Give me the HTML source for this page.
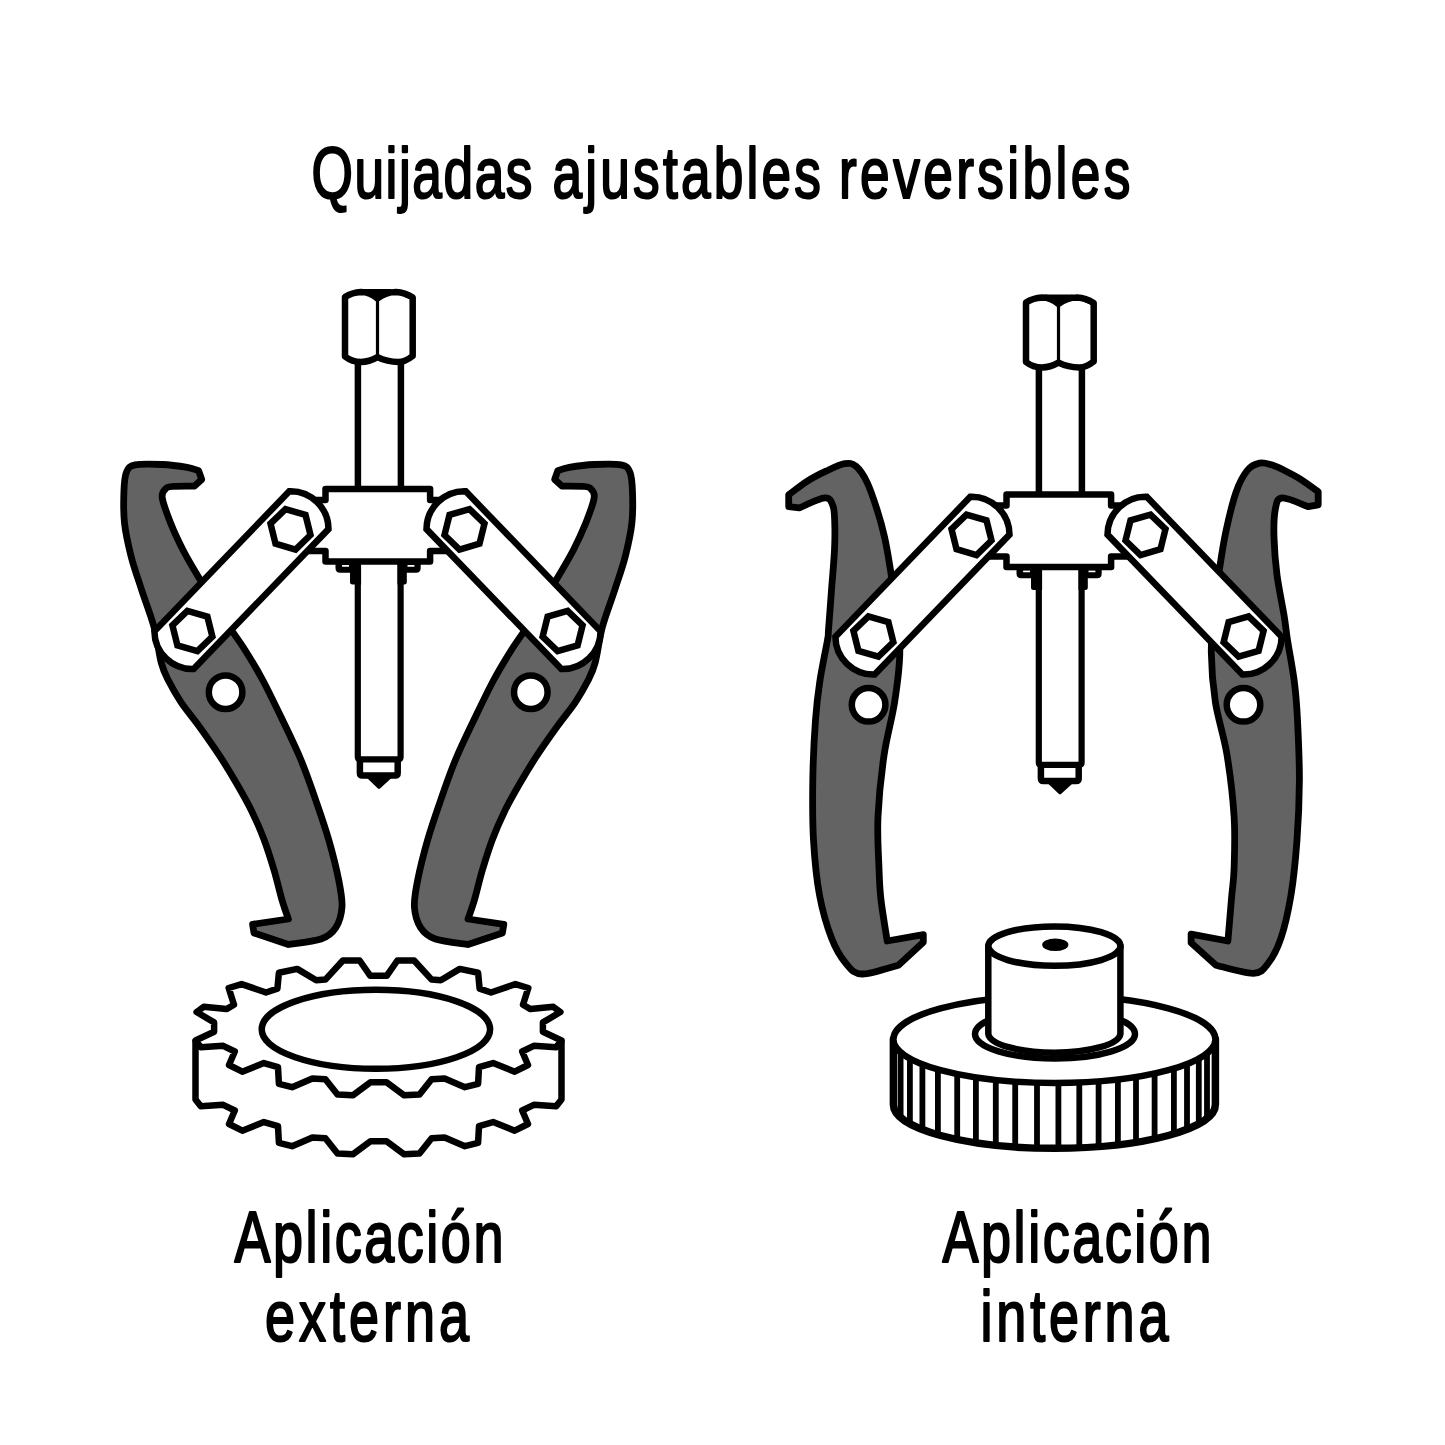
<!DOCTYPE html>
<html><head><meta charset="utf-8"><style>
html,body{margin:0;padding:0;background:#fff;width:1445px;height:1445px;overflow:hidden;position:relative}
</style></head><body>
<svg width="1445" height="1445" viewBox="0 0 1445 1445" style="position:absolute;left:0;top:0">
<path d="M198.6,470.7 C196.7,470.1 193.2,468.4 187.2,467.4 C181.1,466.4 171.0,464.9 162.3,464.5 C153.7,464.1 141.3,463.6 135.3,464.9 C129.3,466.1 128.4,467.5 126.5,472.0 C124.6,476.5 124.2,483.4 123.9,491.9 C123.6,500.4 123.3,512.3 124.5,523.0 C125.7,533.7 128.3,545.2 131.1,556.3 C133.9,567.4 137.7,577.7 141.5,589.5 C145.3,601.3 150.7,614.7 154.0,626.9 C157.3,639.1 158.8,653.5 161.2,662.5 C163.6,671.5 165.4,674.5 168.7,681.1 C172.0,687.7 175.9,694.6 181.1,702.3 C186.3,710.0 193.4,718.3 199.8,727.2 C206.2,736.1 213.5,746.4 219.7,755.9 C225.9,765.4 231.8,775.2 237.2,784.5 C242.6,793.8 247.6,802.6 252.1,811.9 C256.6,821.1 260.6,830.3 264.2,840.0 C267.8,849.7 271.0,860.0 274.0,870.0 C277.0,880.0 279.6,891.8 282.0,900.0 C284.4,908.2 287.3,915.8 288.4,919.0 L252.6,924.3 L254.0,933.0 L288.4,944.5 C293.8,943.6 313.1,941.8 321.0,939.0 C328.9,936.2 332.3,933.0 335.8,927.6 C339.3,922.2 341.5,914.8 342.0,906.9 C342.5,899.0 340.9,891.1 338.7,880.0 C336.5,868.9 332.6,853.3 328.8,840.0 C325.0,826.7 320.3,813.3 315.7,800.0 C311.1,786.7 306.5,773.3 301.0,760.0 C295.5,746.7 288.9,733.3 282.5,720.0 C276.1,706.7 268.9,691.7 262.7,680.0 C256.4,668.3 250.8,659.2 245.0,650.0 C239.2,640.8 233.2,633.0 228.0,625.0 C222.8,617.0 218.7,609.6 214.0,602.0 C209.3,594.4 204.9,587.8 199.7,579.1 C194.5,570.4 187.8,559.4 183.0,550.0 C178.2,540.6 174.0,531.6 170.6,523.0 C167.2,514.4 163.2,503.7 162.3,498.1 C161.4,492.5 163.4,491.4 165.0,489.5 C166.6,487.6 167.1,487.1 172.0,486.5 C176.9,485.9 190.8,486.2 194.5,486.1 L201.7,479.4 L198.6,470.7 Z" fill="#636363" stroke="#000" stroke-width="6.8" stroke-linejoin="round"/>
<path d="M557.8,470.7 C559.7,470.1 563.2,468.4 569.2,467.4 C575.2,466.4 585.4,464.9 594.1,464.5 C602.7,464.1 615.1,463.6 621.1,464.9 C627.1,466.1 628.0,467.5 629.9,472.0 C631.8,476.5 632.2,483.4 632.5,491.9 C632.8,500.4 633.1,512.3 631.9,523.0 C630.7,533.7 628.1,545.2 625.3,556.3 C622.5,567.4 618.7,577.7 614.9,589.5 C611.1,601.3 605.7,614.7 602.4,626.9 C599.1,639.1 597.7,653.5 595.2,662.5 C592.8,671.5 591.0,674.5 587.7,681.1 C584.4,687.7 580.5,694.6 575.3,702.3 C570.1,710.0 563.0,718.3 556.6,727.2 C550.2,736.1 542.9,746.4 536.7,755.9 C530.5,765.4 524.6,775.2 519.2,784.5 C513.8,793.8 508.8,802.6 504.3,811.9 C499.8,821.1 495.8,830.3 492.2,840.0 C488.6,849.7 485.4,860.0 482.4,870.0 C479.4,880.0 476.8,891.8 474.4,900.0 C472.0,908.2 469.1,915.8 468.0,919.0 L503.8,924.3 L502.4,933.0 L468.0,944.5 C462.6,943.6 443.3,941.8 435.4,939.0 C427.5,936.2 424.1,933.0 420.6,927.6 C417.1,922.2 414.9,914.8 414.4,906.9 C413.9,899.0 415.5,891.1 417.7,880.0 C419.9,868.9 423.8,853.3 427.6,840.0 C431.4,826.7 436.1,813.3 440.7,800.0 C445.3,786.7 449.9,773.3 455.4,760.0 C460.9,746.7 467.5,733.3 473.9,720.0 C480.3,706.7 487.4,691.7 493.7,680.0 C499.9,668.3 505.6,659.2 511.4,650.0 C517.2,640.8 523.2,633.0 528.4,625.0 C533.6,617.0 537.7,609.6 542.4,602.0 C547.1,594.4 551.5,587.8 556.7,579.1 C561.9,570.4 568.5,559.4 573.4,550.0 C578.2,540.6 582.3,531.6 585.8,523.0 C589.2,514.4 593.2,503.7 594.1,498.1 C595.0,492.5 593.0,491.4 591.4,489.5 C589.8,487.6 589.3,487.1 584.4,486.5 C579.5,485.9 565.6,486.2 561.9,486.1 L554.7,479.4 L557.8,470.7 Z" fill="#636363" stroke="#000" stroke-width="6.8" stroke-linejoin="round"/>
<circle cx="225.6" cy="692.2" r="16.8" fill="#fff" stroke="#000" stroke-width="6.5"/>
<circle cx="530.8" cy="692.2" r="16.8" fill="#fff" stroke="#000" stroke-width="6.5"/>
<path d="M788.7,494.8 C791.8,492.5 801.2,485.0 807.4,481.1 C813.6,477.2 819.8,474.1 826.0,471.2 C832.2,468.3 839.7,464.5 844.7,463.7 C849.7,462.9 852.2,463.1 855.9,466.2 C859.6,469.3 863.6,475.1 867.1,482.4 C870.6,489.7 874.2,500.7 877.1,509.8 C880.0,518.9 882.4,527.5 884.6,537.2 C886.8,547.0 888.3,556.2 890.2,568.3 C892.1,580.4 894.4,596.0 896.0,610.0 C897.6,624.0 900.0,637.1 899.8,652.5 C899.6,667.9 897.2,685.3 894.6,702.3 C892.0,719.2 887.0,735.2 884.2,754.2 C881.4,773.2 878.9,797.5 878.0,816.5 C877.1,835.5 878.5,854.5 879.0,868.4 C879.5,882.3 879.6,887.9 881.0,900.0 C882.4,912.1 886.2,934.2 887.2,941.0 L923.3,934.7 L923.3,942.2 L898.4,965.2 C892.4,966.7 871.0,974.3 862.3,974.0 C853.6,973.7 851.1,969.5 846.0,963.5 C840.9,957.5 835.9,949.4 831.5,938.0 C827.1,926.6 822.5,911.3 819.5,895.0 C816.5,878.7 814.6,859.2 813.5,840.0 C812.4,820.8 812.5,800.0 812.8,780.0 C813.1,760.0 814.3,736.4 815.5,720.0 C816.7,703.6 817.8,694.8 819.8,681.5 C821.8,668.2 826.0,648.6 827.5,640.0 C829.0,631.4 827.8,638.3 828.5,630.0 C829.2,621.7 830.5,603.3 831.5,590.0 C832.5,576.7 834.0,560.9 834.5,550.0 C835.0,539.1 835.0,532.0 834.8,524.7 C834.5,517.4 834.7,510.5 833.0,506.0 C831.3,501.5 830.4,497.6 824.8,497.9 C819.2,498.2 803.5,506.2 799.3,507.9 L788.7,506.7 L788.7,494.8 Z" fill="#636363" stroke="#000" stroke-width="6.8" stroke-linejoin="round"/>
<path d="M1318.2,491.7 C1315.3,489.6 1306.3,482.8 1300.7,479.3 C1295.1,475.8 1289.3,472.9 1284.5,470.5 C1279.7,468.1 1276.2,466.2 1272.1,465.0 C1267.9,463.8 1263.8,462.2 1259.6,463.1 C1255.4,464.0 1251.1,465.6 1247.2,470.5 C1243.3,475.4 1239.5,482.2 1236.0,492.3 C1232.5,502.4 1228.7,518.5 1226.0,531.0 C1223.3,543.5 1221.8,553.8 1219.8,567.0 C1217.8,580.2 1215.4,595.8 1214.0,610.0 C1212.6,624.2 1211.1,637.1 1211.3,652.5 C1211.5,667.9 1212.8,685.3 1215.4,702.3 C1218.0,719.2 1223.8,735.2 1226.9,754.2 C1230.0,773.2 1232.9,797.5 1234.1,816.5 C1235.3,835.5 1234.5,854.9 1234.1,868.4 C1233.7,881.9 1232.6,885.3 1231.6,897.4 C1230.6,909.5 1228.5,933.7 1227.9,941.0 L1191.1,934.1 L1191.1,942.8 L1216.0,965.2 C1222.2,966.6 1244.7,973.7 1253.4,973.3 C1262.1,972.9 1263.8,968.9 1268.4,963.0 C1273.0,957.1 1277.2,949.3 1281.0,938.0 C1284.8,926.7 1288.3,911.3 1291.0,895.0 C1293.7,878.7 1295.6,859.2 1297.0,840.0 C1298.4,820.8 1299.3,800.0 1299.4,780.0 C1299.5,760.0 1298.3,736.4 1297.5,720.0 C1296.7,703.6 1296.0,694.8 1294.3,681.5 C1292.6,668.2 1289.2,651.1 1287.5,640.0 C1285.8,628.9 1285.8,625.8 1284.0,615.0 C1282.2,604.2 1278.7,588.0 1277.0,575.0 C1275.3,562.0 1274.3,548.0 1274.0,537.2 C1273.7,526.4 1273.9,516.5 1275.2,510.0 C1276.5,503.5 1276.5,498.6 1282.0,498.0 C1287.5,497.4 1303.8,505.2 1308.2,506.7 L1318.2,504.8 L1318.2,491.7 Z" fill="#636363" stroke="#000" stroke-width="6.8" stroke-linejoin="round"/>
<circle cx="868.6" cy="704.8" r="16.8" fill="#fff" stroke="#000" stroke-width="6.5"/>
<circle cx="1243.5" cy="704.8" r="16.8" fill="#fff" stroke="#000" stroke-width="6.5"/>
<g id="sp"><path d="M357.9,362 V492 M400.9,362 V492" stroke="#000" stroke-width="6.5" fill="none"/><path d="M345,356.5 V297 Q352,292.5 361,292 Q370,292 377.5,298.5 Q386,292 396,292 Q405,292.5 412.7,297.5 V356 Q405,362 398.4,362 Q387,362 377.5,357.2 Q369,362 361,362 Q352,362 345,356.5 Z" fill="#fff" stroke="#000" stroke-width="6.5" stroke-linejoin="round"/><path d="M377.5,299 V357" stroke="#000" stroke-width="3.2"/><path d="M363,289 L392,289 L377.5,300 Z" fill="#000"/><path d="M351,295 Q345,298 343,300 M404,295 Q411,298 415,300" stroke="#000" stroke-width="3" fill="none"/><path d="M359.9,760 V773 Q359.9,775.5 362.4,775.5 H395.2 Q397.7,775.5 397.7,773 V760" stroke="#000" stroke-width="6.5" fill="#fff" stroke-linejoin="round"/><path d="M357.8,560 V757 Q357.8,759.3 360,759.3 H398.4 Q400.6,759.3 400.6,757 V560" stroke="#000" stroke-width="6.2" fill="#fff" stroke-linejoin="round"/><path d="M368,777 L379,787.5 L390.5,777 Z" fill="#000" stroke="#000" stroke-width="3" stroke-linejoin="round"/><path d="M335.5,562 V568 Q335.5,572.8 340,572.8 H350 V582.5 Q350,584.5 352.5,584.5 H361.1 V562 Z M420.7,562 V568 Q420.7,572.8 416.2,572.8 H406.8 V582.5 Q406.8,584.5 404.3,584.5 H397.5 V562 Z" fill="#000"/><path d="M342.1,565.8 H349 M407.5,565.8 H414.4" stroke="#fff" stroke-width="1.7"/><path d="M325.5,488.9 H430.1 V499.9 H452 V551 H430.1 V561.5 H325.5 V551 H303 V499.9 H325.5 Z" fill="#fff" stroke="#000" stroke-width="6.5" stroke-linejoin="round"/><path d="M289.3,491.3 A38.0,38.0 0 0 1 328.5,529.1 L193.6,669.0 A38.0,38.0 0 0 1 154.4,631.2 Z" fill="#fff" stroke="#000" stroke-width="6.5" stroke-linejoin="miter"/><polygon points="212.4,636.7 197.4,651.2 177.4,645.4 172.4,625.3 187.4,610.8 207.4,616.6" fill="#fff" stroke="#000" stroke-width="6.5" stroke-linejoin="miter"/><polygon points="310.5,535.0 295.5,549.5 275.5,543.7 270.5,523.6 285.5,509.1 305.5,514.9" fill="#fff" stroke="#000" stroke-width="6.5" stroke-linejoin="miter"/><path d="M600.6,631.2 A38.0,38.0 0 0 1 561.4,669.0 L426.5,529.1 A38.0,38.0 0 0 1 465.7,491.3 Z" fill="#fff" stroke="#000" stroke-width="6.5" stroke-linejoin="miter"/><polygon points="542.6,636.7 547.6,616.6 567.6,610.8 582.6,625.3 577.6,645.4 557.6,651.2" fill="#fff" stroke="#000" stroke-width="6.5" stroke-linejoin="miter"/><polygon points="444.5,535.0 449.5,514.9 469.5,509.1 484.5,523.6 479.5,543.7 459.5,549.5" fill="#fff" stroke="#000" stroke-width="6.5" stroke-linejoin="miter"/></g>
<use href="#sp" transform="translate(681,5.5)"/>
<g fill="#fff">
<path d="M542.9,1027.5 L542.9,1031.8 L561.5,1040.5 L556.2,1047.3 L533.8,1045.8 L522.2,1051.5 L528.0,1065.0 L514.7,1071.7 L493.1,1063.1 L479.0,1067.2 L478.1,1083.9 L464.9,1087.2 L444.6,1078.5 L431.6,1079.3 L419.5,1094.5 L404.2,1095.3 L386.7,1082.3 L378.5,1082.3 L370.3,1082.3 L352.8,1095.3 L337.5,1094.5 L325.4,1079.3 L312.4,1078.5 L292.1,1087.2 L278.9,1083.9 L278.0,1067.2 L263.9,1063.1 L242.3,1071.7 L229.0,1065.0 L234.8,1051.5 L223.2,1045.8 L200.8,1047.3 L195.5,1040.5 L214.1,1031.8 L214.1,1027.5 L258.5,1007.5 L498.5,1007.5 Z" transform="translate(0,0)"/>
<path d="M542.9,1027.5 L542.9,1031.8 L561.5,1040.5 L556.2,1047.3 L533.8,1045.8 L522.2,1051.5 L528.0,1065.0 L514.7,1071.7 L493.1,1063.1 L479.0,1067.2 L478.1,1083.9 L464.9,1087.2 L444.6,1078.5 L431.6,1079.3 L419.5,1094.5 L404.2,1095.3 L386.7,1082.3 L378.5,1082.3 L370.3,1082.3 L352.8,1095.3 L337.5,1094.5 L325.4,1079.3 L312.4,1078.5 L292.1,1087.2 L278.9,1083.9 L278.0,1067.2 L263.9,1063.1 L242.3,1071.7 L229.0,1065.0 L234.8,1051.5 L223.2,1045.8 L200.8,1047.3 L195.5,1040.5 L214.1,1031.8 L214.1,1027.5 L258.5,1007.5 L498.5,1007.5 Z" transform="translate(0,2)"/>
<path d="M542.9,1027.5 L542.9,1031.8 L561.5,1040.5 L556.2,1047.3 L533.8,1045.8 L522.2,1051.5 L528.0,1065.0 L514.7,1071.7 L493.1,1063.1 L479.0,1067.2 L478.1,1083.9 L464.9,1087.2 L444.6,1078.5 L431.6,1079.3 L419.5,1094.5 L404.2,1095.3 L386.7,1082.3 L378.5,1082.3 L370.3,1082.3 L352.8,1095.3 L337.5,1094.5 L325.4,1079.3 L312.4,1078.5 L292.1,1087.2 L278.9,1083.9 L278.0,1067.2 L263.9,1063.1 L242.3,1071.7 L229.0,1065.0 L234.8,1051.5 L223.2,1045.8 L200.8,1047.3 L195.5,1040.5 L214.1,1031.8 L214.1,1027.5 L258.5,1007.5 L498.5,1007.5 Z" transform="translate(0,4)"/>
<path d="M542.9,1027.5 L542.9,1031.8 L561.5,1040.5 L556.2,1047.3 L533.8,1045.8 L522.2,1051.5 L528.0,1065.0 L514.7,1071.7 L493.1,1063.1 L479.0,1067.2 L478.1,1083.9 L464.9,1087.2 L444.6,1078.5 L431.6,1079.3 L419.5,1094.5 L404.2,1095.3 L386.7,1082.3 L378.5,1082.3 L370.3,1082.3 L352.8,1095.3 L337.5,1094.5 L325.4,1079.3 L312.4,1078.5 L292.1,1087.2 L278.9,1083.9 L278.0,1067.2 L263.9,1063.1 L242.3,1071.7 L229.0,1065.0 L234.8,1051.5 L223.2,1045.8 L200.8,1047.3 L195.5,1040.5 L214.1,1031.8 L214.1,1027.5 L258.5,1007.5 L498.5,1007.5 Z" transform="translate(0,6)"/>
<path d="M542.9,1027.5 L542.9,1031.8 L561.5,1040.5 L556.2,1047.3 L533.8,1045.8 L522.2,1051.5 L528.0,1065.0 L514.7,1071.7 L493.1,1063.1 L479.0,1067.2 L478.1,1083.9 L464.9,1087.2 L444.6,1078.5 L431.6,1079.3 L419.5,1094.5 L404.2,1095.3 L386.7,1082.3 L378.5,1082.3 L370.3,1082.3 L352.8,1095.3 L337.5,1094.5 L325.4,1079.3 L312.4,1078.5 L292.1,1087.2 L278.9,1083.9 L278.0,1067.2 L263.9,1063.1 L242.3,1071.7 L229.0,1065.0 L234.8,1051.5 L223.2,1045.8 L200.8,1047.3 L195.5,1040.5 L214.1,1031.8 L214.1,1027.5 L258.5,1007.5 L498.5,1007.5 Z" transform="translate(0,8)"/>
<path d="M542.9,1027.5 L542.9,1031.8 L561.5,1040.5 L556.2,1047.3 L533.8,1045.8 L522.2,1051.5 L528.0,1065.0 L514.7,1071.7 L493.1,1063.1 L479.0,1067.2 L478.1,1083.9 L464.9,1087.2 L444.6,1078.5 L431.6,1079.3 L419.5,1094.5 L404.2,1095.3 L386.7,1082.3 L378.5,1082.3 L370.3,1082.3 L352.8,1095.3 L337.5,1094.5 L325.4,1079.3 L312.4,1078.5 L292.1,1087.2 L278.9,1083.9 L278.0,1067.2 L263.9,1063.1 L242.3,1071.7 L229.0,1065.0 L234.8,1051.5 L223.2,1045.8 L200.8,1047.3 L195.5,1040.5 L214.1,1031.8 L214.1,1027.5 L258.5,1007.5 L498.5,1007.5 Z" transform="translate(0,10)"/>
<path d="M542.9,1027.5 L542.9,1031.8 L561.5,1040.5 L556.2,1047.3 L533.8,1045.8 L522.2,1051.5 L528.0,1065.0 L514.7,1071.7 L493.1,1063.1 L479.0,1067.2 L478.1,1083.9 L464.9,1087.2 L444.6,1078.5 L431.6,1079.3 L419.5,1094.5 L404.2,1095.3 L386.7,1082.3 L378.5,1082.3 L370.3,1082.3 L352.8,1095.3 L337.5,1094.5 L325.4,1079.3 L312.4,1078.5 L292.1,1087.2 L278.9,1083.9 L278.0,1067.2 L263.9,1063.1 L242.3,1071.7 L229.0,1065.0 L234.8,1051.5 L223.2,1045.8 L200.8,1047.3 L195.5,1040.5 L214.1,1031.8 L214.1,1027.5 L258.5,1007.5 L498.5,1007.5 Z" transform="translate(0,12)"/>
<path d="M542.9,1027.5 L542.9,1031.8 L561.5,1040.5 L556.2,1047.3 L533.8,1045.8 L522.2,1051.5 L528.0,1065.0 L514.7,1071.7 L493.1,1063.1 L479.0,1067.2 L478.1,1083.9 L464.9,1087.2 L444.6,1078.5 L431.6,1079.3 L419.5,1094.5 L404.2,1095.3 L386.7,1082.3 L378.5,1082.3 L370.3,1082.3 L352.8,1095.3 L337.5,1094.5 L325.4,1079.3 L312.4,1078.5 L292.1,1087.2 L278.9,1083.9 L278.0,1067.2 L263.9,1063.1 L242.3,1071.7 L229.0,1065.0 L234.8,1051.5 L223.2,1045.8 L200.8,1047.3 L195.5,1040.5 L214.1,1031.8 L214.1,1027.5 L258.5,1007.5 L498.5,1007.5 Z" transform="translate(0,14)"/>
<path d="M542.9,1027.5 L542.9,1031.8 L561.5,1040.5 L556.2,1047.3 L533.8,1045.8 L522.2,1051.5 L528.0,1065.0 L514.7,1071.7 L493.1,1063.1 L479.0,1067.2 L478.1,1083.9 L464.9,1087.2 L444.6,1078.5 L431.6,1079.3 L419.5,1094.5 L404.2,1095.3 L386.7,1082.3 L378.5,1082.3 L370.3,1082.3 L352.8,1095.3 L337.5,1094.5 L325.4,1079.3 L312.4,1078.5 L292.1,1087.2 L278.9,1083.9 L278.0,1067.2 L263.9,1063.1 L242.3,1071.7 L229.0,1065.0 L234.8,1051.5 L223.2,1045.8 L200.8,1047.3 L195.5,1040.5 L214.1,1031.8 L214.1,1027.5 L258.5,1007.5 L498.5,1007.5 Z" transform="translate(0,16)"/>
<path d="M542.9,1027.5 L542.9,1031.8 L561.5,1040.5 L556.2,1047.3 L533.8,1045.8 L522.2,1051.5 L528.0,1065.0 L514.7,1071.7 L493.1,1063.1 L479.0,1067.2 L478.1,1083.9 L464.9,1087.2 L444.6,1078.5 L431.6,1079.3 L419.5,1094.5 L404.2,1095.3 L386.7,1082.3 L378.5,1082.3 L370.3,1082.3 L352.8,1095.3 L337.5,1094.5 L325.4,1079.3 L312.4,1078.5 L292.1,1087.2 L278.9,1083.9 L278.0,1067.2 L263.9,1063.1 L242.3,1071.7 L229.0,1065.0 L234.8,1051.5 L223.2,1045.8 L200.8,1047.3 L195.5,1040.5 L214.1,1031.8 L214.1,1027.5 L258.5,1007.5 L498.5,1007.5 Z" transform="translate(0,18)"/>
<path d="M542.9,1027.5 L542.9,1031.8 L561.5,1040.5 L556.2,1047.3 L533.8,1045.8 L522.2,1051.5 L528.0,1065.0 L514.7,1071.7 L493.1,1063.1 L479.0,1067.2 L478.1,1083.9 L464.9,1087.2 L444.6,1078.5 L431.6,1079.3 L419.5,1094.5 L404.2,1095.3 L386.7,1082.3 L378.5,1082.3 L370.3,1082.3 L352.8,1095.3 L337.5,1094.5 L325.4,1079.3 L312.4,1078.5 L292.1,1087.2 L278.9,1083.9 L278.0,1067.2 L263.9,1063.1 L242.3,1071.7 L229.0,1065.0 L234.8,1051.5 L223.2,1045.8 L200.8,1047.3 L195.5,1040.5 L214.1,1031.8 L214.1,1027.5 L258.5,1007.5 L498.5,1007.5 Z" transform="translate(0,20)"/>
<path d="M542.9,1027.5 L542.9,1031.8 L561.5,1040.5 L556.2,1047.3 L533.8,1045.8 L522.2,1051.5 L528.0,1065.0 L514.7,1071.7 L493.1,1063.1 L479.0,1067.2 L478.1,1083.9 L464.9,1087.2 L444.6,1078.5 L431.6,1079.3 L419.5,1094.5 L404.2,1095.3 L386.7,1082.3 L378.5,1082.3 L370.3,1082.3 L352.8,1095.3 L337.5,1094.5 L325.4,1079.3 L312.4,1078.5 L292.1,1087.2 L278.9,1083.9 L278.0,1067.2 L263.9,1063.1 L242.3,1071.7 L229.0,1065.0 L234.8,1051.5 L223.2,1045.8 L200.8,1047.3 L195.5,1040.5 L214.1,1031.8 L214.1,1027.5 L258.5,1007.5 L498.5,1007.5 Z" transform="translate(0,22)"/>
<path d="M542.9,1027.5 L542.9,1031.8 L561.5,1040.5 L556.2,1047.3 L533.8,1045.8 L522.2,1051.5 L528.0,1065.0 L514.7,1071.7 L493.1,1063.1 L479.0,1067.2 L478.1,1083.9 L464.9,1087.2 L444.6,1078.5 L431.6,1079.3 L419.5,1094.5 L404.2,1095.3 L386.7,1082.3 L378.5,1082.3 L370.3,1082.3 L352.8,1095.3 L337.5,1094.5 L325.4,1079.3 L312.4,1078.5 L292.1,1087.2 L278.9,1083.9 L278.0,1067.2 L263.9,1063.1 L242.3,1071.7 L229.0,1065.0 L234.8,1051.5 L223.2,1045.8 L200.8,1047.3 L195.5,1040.5 L214.1,1031.8 L214.1,1027.5 L258.5,1007.5 L498.5,1007.5 Z" transform="translate(0,24)"/>
<path d="M542.9,1027.5 L542.9,1031.8 L561.5,1040.5 L556.2,1047.3 L533.8,1045.8 L522.2,1051.5 L528.0,1065.0 L514.7,1071.7 L493.1,1063.1 L479.0,1067.2 L478.1,1083.9 L464.9,1087.2 L444.6,1078.5 L431.6,1079.3 L419.5,1094.5 L404.2,1095.3 L386.7,1082.3 L378.5,1082.3 L370.3,1082.3 L352.8,1095.3 L337.5,1094.5 L325.4,1079.3 L312.4,1078.5 L292.1,1087.2 L278.9,1083.9 L278.0,1067.2 L263.9,1063.1 L242.3,1071.7 L229.0,1065.0 L234.8,1051.5 L223.2,1045.8 L200.8,1047.3 L195.5,1040.5 L214.1,1031.8 L214.1,1027.5 L258.5,1007.5 L498.5,1007.5 Z" transform="translate(0,26)"/>
<path d="M542.9,1027.5 L542.9,1031.8 L561.5,1040.5 L556.2,1047.3 L533.8,1045.8 L522.2,1051.5 L528.0,1065.0 L514.7,1071.7 L493.1,1063.1 L479.0,1067.2 L478.1,1083.9 L464.9,1087.2 L444.6,1078.5 L431.6,1079.3 L419.5,1094.5 L404.2,1095.3 L386.7,1082.3 L378.5,1082.3 L370.3,1082.3 L352.8,1095.3 L337.5,1094.5 L325.4,1079.3 L312.4,1078.5 L292.1,1087.2 L278.9,1083.9 L278.0,1067.2 L263.9,1063.1 L242.3,1071.7 L229.0,1065.0 L234.8,1051.5 L223.2,1045.8 L200.8,1047.3 L195.5,1040.5 L214.1,1031.8 L214.1,1027.5 L258.5,1007.5 L498.5,1007.5 Z" transform="translate(0,28)"/>
<path d="M542.9,1027.5 L542.9,1031.8 L561.5,1040.5 L556.2,1047.3 L533.8,1045.8 L522.2,1051.5 L528.0,1065.0 L514.7,1071.7 L493.1,1063.1 L479.0,1067.2 L478.1,1083.9 L464.9,1087.2 L444.6,1078.5 L431.6,1079.3 L419.5,1094.5 L404.2,1095.3 L386.7,1082.3 L378.5,1082.3 L370.3,1082.3 L352.8,1095.3 L337.5,1094.5 L325.4,1079.3 L312.4,1078.5 L292.1,1087.2 L278.9,1083.9 L278.0,1067.2 L263.9,1063.1 L242.3,1071.7 L229.0,1065.0 L234.8,1051.5 L223.2,1045.8 L200.8,1047.3 L195.5,1040.5 L214.1,1031.8 L214.1,1027.5 L258.5,1007.5 L498.5,1007.5 Z" transform="translate(0,30)"/>
<path d="M542.9,1027.5 L542.9,1031.8 L561.5,1040.5 L556.2,1047.3 L533.8,1045.8 L522.2,1051.5 L528.0,1065.0 L514.7,1071.7 L493.1,1063.1 L479.0,1067.2 L478.1,1083.9 L464.9,1087.2 L444.6,1078.5 L431.6,1079.3 L419.5,1094.5 L404.2,1095.3 L386.7,1082.3 L378.5,1082.3 L370.3,1082.3 L352.8,1095.3 L337.5,1094.5 L325.4,1079.3 L312.4,1078.5 L292.1,1087.2 L278.9,1083.9 L278.0,1067.2 L263.9,1063.1 L242.3,1071.7 L229.0,1065.0 L234.8,1051.5 L223.2,1045.8 L200.8,1047.3 L195.5,1040.5 L214.1,1031.8 L214.1,1027.5 L258.5,1007.5 L498.5,1007.5 Z" transform="translate(0,32)"/>
<path d="M542.9,1027.5 L542.9,1031.8 L561.5,1040.5 L556.2,1047.3 L533.8,1045.8 L522.2,1051.5 L528.0,1065.0 L514.7,1071.7 L493.1,1063.1 L479.0,1067.2 L478.1,1083.9 L464.9,1087.2 L444.6,1078.5 L431.6,1079.3 L419.5,1094.5 L404.2,1095.3 L386.7,1082.3 L378.5,1082.3 L370.3,1082.3 L352.8,1095.3 L337.5,1094.5 L325.4,1079.3 L312.4,1078.5 L292.1,1087.2 L278.9,1083.9 L278.0,1067.2 L263.9,1063.1 L242.3,1071.7 L229.0,1065.0 L234.8,1051.5 L223.2,1045.8 L200.8,1047.3 L195.5,1040.5 L214.1,1031.8 L214.1,1027.5 L258.5,1007.5 L498.5,1007.5 Z" transform="translate(0,34)"/>
<path d="M542.9,1027.5 L542.9,1031.8 L561.5,1040.5 L556.2,1047.3 L533.8,1045.8 L522.2,1051.5 L528.0,1065.0 L514.7,1071.7 L493.1,1063.1 L479.0,1067.2 L478.1,1083.9 L464.9,1087.2 L444.6,1078.5 L431.6,1079.3 L419.5,1094.5 L404.2,1095.3 L386.7,1082.3 L378.5,1082.3 L370.3,1082.3 L352.8,1095.3 L337.5,1094.5 L325.4,1079.3 L312.4,1078.5 L292.1,1087.2 L278.9,1083.9 L278.0,1067.2 L263.9,1063.1 L242.3,1071.7 L229.0,1065.0 L234.8,1051.5 L223.2,1045.8 L200.8,1047.3 L195.5,1040.5 L214.1,1031.8 L214.1,1027.5 L258.5,1007.5 L498.5,1007.5 Z" transform="translate(0,36)"/>
<path d="M542.9,1027.5 L542.9,1031.8 L561.5,1040.5 L556.2,1047.3 L533.8,1045.8 L522.2,1051.5 L528.0,1065.0 L514.7,1071.7 L493.1,1063.1 L479.0,1067.2 L478.1,1083.9 L464.9,1087.2 L444.6,1078.5 L431.6,1079.3 L419.5,1094.5 L404.2,1095.3 L386.7,1082.3 L378.5,1082.3 L370.3,1082.3 L352.8,1095.3 L337.5,1094.5 L325.4,1079.3 L312.4,1078.5 L292.1,1087.2 L278.9,1083.9 L278.0,1067.2 L263.9,1063.1 L242.3,1071.7 L229.0,1065.0 L234.8,1051.5 L223.2,1045.8 L200.8,1047.3 L195.5,1040.5 L214.1,1031.8 L214.1,1027.5 L258.5,1007.5 L498.5,1007.5 Z" transform="translate(0,38)"/>
<path d="M542.9,1027.5 L542.9,1031.8 L561.5,1040.5 L556.2,1047.3 L533.8,1045.8 L522.2,1051.5 L528.0,1065.0 L514.7,1071.7 L493.1,1063.1 L479.0,1067.2 L478.1,1083.9 L464.9,1087.2 L444.6,1078.5 L431.6,1079.3 L419.5,1094.5 L404.2,1095.3 L386.7,1082.3 L378.5,1082.3 L370.3,1082.3 L352.8,1095.3 L337.5,1094.5 L325.4,1079.3 L312.4,1078.5 L292.1,1087.2 L278.9,1083.9 L278.0,1067.2 L263.9,1063.1 L242.3,1071.7 L229.0,1065.0 L234.8,1051.5 L223.2,1045.8 L200.8,1047.3 L195.5,1040.5 L214.1,1031.8 L214.1,1027.5 L258.5,1007.5 L498.5,1007.5 Z" transform="translate(0,40)"/>
<path d="M542.9,1027.5 L542.9,1031.8 L561.5,1040.5 L556.2,1047.3 L533.8,1045.8 L522.2,1051.5 L528.0,1065.0 L514.7,1071.7 L493.1,1063.1 L479.0,1067.2 L478.1,1083.9 L464.9,1087.2 L444.6,1078.5 L431.6,1079.3 L419.5,1094.5 L404.2,1095.3 L386.7,1082.3 L378.5,1082.3 L370.3,1082.3 L352.8,1095.3 L337.5,1094.5 L325.4,1079.3 L312.4,1078.5 L292.1,1087.2 L278.9,1083.9 L278.0,1067.2 L263.9,1063.1 L242.3,1071.7 L229.0,1065.0 L234.8,1051.5 L223.2,1045.8 L200.8,1047.3 L195.5,1040.5 L214.1,1031.8 L214.1,1027.5 L258.5,1007.5 L498.5,1007.5 Z" transform="translate(0,42)"/>
<path d="M542.9,1027.5 L542.9,1031.8 L561.5,1040.5 L556.2,1047.3 L533.8,1045.8 L522.2,1051.5 L528.0,1065.0 L514.7,1071.7 L493.1,1063.1 L479.0,1067.2 L478.1,1083.9 L464.9,1087.2 L444.6,1078.5 L431.6,1079.3 L419.5,1094.5 L404.2,1095.3 L386.7,1082.3 L378.5,1082.3 L370.3,1082.3 L352.8,1095.3 L337.5,1094.5 L325.4,1079.3 L312.4,1078.5 L292.1,1087.2 L278.9,1083.9 L278.0,1067.2 L263.9,1063.1 L242.3,1071.7 L229.0,1065.0 L234.8,1051.5 L223.2,1045.8 L200.8,1047.3 L195.5,1040.5 L214.1,1031.8 L214.1,1027.5 L258.5,1007.5 L498.5,1007.5 Z" transform="translate(0,44)"/>
<path d="M542.9,1027.5 L542.9,1031.8 L561.5,1040.5 L556.2,1047.3 L533.8,1045.8 L522.2,1051.5 L528.0,1065.0 L514.7,1071.7 L493.1,1063.1 L479.0,1067.2 L478.1,1083.9 L464.9,1087.2 L444.6,1078.5 L431.6,1079.3 L419.5,1094.5 L404.2,1095.3 L386.7,1082.3 L378.5,1082.3 L370.3,1082.3 L352.8,1095.3 L337.5,1094.5 L325.4,1079.3 L312.4,1078.5 L292.1,1087.2 L278.9,1083.9 L278.0,1067.2 L263.9,1063.1 L242.3,1071.7 L229.0,1065.0 L234.8,1051.5 L223.2,1045.8 L200.8,1047.3 L195.5,1040.5 L214.1,1031.8 L214.1,1027.5 L258.5,1007.5 L498.5,1007.5 Z" transform="translate(0,46)"/>
<path d="M542.9,1027.5 L542.9,1031.8 L561.5,1040.5 L556.2,1047.3 L533.8,1045.8 L522.2,1051.5 L528.0,1065.0 L514.7,1071.7 L493.1,1063.1 L479.0,1067.2 L478.1,1083.9 L464.9,1087.2 L444.6,1078.5 L431.6,1079.3 L419.5,1094.5 L404.2,1095.3 L386.7,1082.3 L378.5,1082.3 L370.3,1082.3 L352.8,1095.3 L337.5,1094.5 L325.4,1079.3 L312.4,1078.5 L292.1,1087.2 L278.9,1083.9 L278.0,1067.2 L263.9,1063.1 L242.3,1071.7 L229.0,1065.0 L234.8,1051.5 L223.2,1045.8 L200.8,1047.3 L195.5,1040.5 L214.1,1031.8 L214.1,1027.5 L258.5,1007.5 L498.5,1007.5 Z" transform="translate(0,48)"/>
<path d="M542.9,1027.5 L542.9,1031.8 L561.5,1040.5 L556.2,1047.3 L533.8,1045.8 L522.2,1051.5 L528.0,1065.0 L514.7,1071.7 L493.1,1063.1 L479.0,1067.2 L478.1,1083.9 L464.9,1087.2 L444.6,1078.5 L431.6,1079.3 L419.5,1094.5 L404.2,1095.3 L386.7,1082.3 L378.5,1082.3 L370.3,1082.3 L352.8,1095.3 L337.5,1094.5 L325.4,1079.3 L312.4,1078.5 L292.1,1087.2 L278.9,1083.9 L278.0,1067.2 L263.9,1063.1 L242.3,1071.7 L229.0,1065.0 L234.8,1051.5 L223.2,1045.8 L200.8,1047.3 L195.5,1040.5 L214.1,1031.8 L214.1,1027.5 L258.5,1007.5 L498.5,1007.5 Z" transform="translate(0,50)"/>
<path d="M542.9,1027.5 L542.9,1031.8 L561.5,1040.5 L556.2,1047.3 L533.8,1045.8 L522.2,1051.5 L528.0,1065.0 L514.7,1071.7 L493.1,1063.1 L479.0,1067.2 L478.1,1083.9 L464.9,1087.2 L444.6,1078.5 L431.6,1079.3 L419.5,1094.5 L404.2,1095.3 L386.7,1082.3 L378.5,1082.3 L370.3,1082.3 L352.8,1095.3 L337.5,1094.5 L325.4,1079.3 L312.4,1078.5 L292.1,1087.2 L278.9,1083.9 L278.0,1067.2 L263.9,1063.1 L242.3,1071.7 L229.0,1065.0 L234.8,1051.5 L223.2,1045.8 L200.8,1047.3 L195.5,1040.5 L214.1,1031.8 L214.1,1027.5 L258.5,1007.5 L498.5,1007.5 Z" transform="translate(0,52)"/>
<path d="M542.9,1027.5 L542.9,1031.8 L561.5,1040.5 L556.2,1047.3 L533.8,1045.8 L522.2,1051.5 L528.0,1065.0 L514.7,1071.7 L493.1,1063.1 L479.0,1067.2 L478.1,1083.9 L464.9,1087.2 L444.6,1078.5 L431.6,1079.3 L419.5,1094.5 L404.2,1095.3 L386.7,1082.3 L378.5,1082.3 L370.3,1082.3 L352.8,1095.3 L337.5,1094.5 L325.4,1079.3 L312.4,1078.5 L292.1,1087.2 L278.9,1083.9 L278.0,1067.2 L263.9,1063.1 L242.3,1071.7 L229.0,1065.0 L234.8,1051.5 L223.2,1045.8 L200.8,1047.3 L195.5,1040.5 L214.1,1031.8 L214.1,1027.5 L258.5,1007.5 L498.5,1007.5 Z" transform="translate(0,54)"/>
<path d="M542.9,1027.5 L542.9,1031.8 L561.5,1040.5 L556.2,1047.3 L533.8,1045.8 L522.2,1051.5 L528.0,1065.0 L514.7,1071.7 L493.1,1063.1 L479.0,1067.2 L478.1,1083.9 L464.9,1087.2 L444.6,1078.5 L431.6,1079.3 L419.5,1094.5 L404.2,1095.3 L386.7,1082.3 L378.5,1082.3 L370.3,1082.3 L352.8,1095.3 L337.5,1094.5 L325.4,1079.3 L312.4,1078.5 L292.1,1087.2 L278.9,1083.9 L278.0,1067.2 L263.9,1063.1 L242.3,1071.7 L229.0,1065.0 L234.8,1051.5 L223.2,1045.8 L200.8,1047.3 L195.5,1040.5 L214.1,1031.8 L214.1,1027.5 L258.5,1007.5 L498.5,1007.5 Z" transform="translate(0,56)"/>
<path d="M542.9,1027.5 L542.9,1031.8 L561.5,1040.5 L556.2,1047.3 L533.8,1045.8 L522.2,1051.5 L528.0,1065.0 L514.7,1071.7 L493.1,1063.1 L479.0,1067.2 L478.1,1083.9 L464.9,1087.2 L444.6,1078.5 L431.6,1079.3 L419.5,1094.5 L404.2,1095.3 L386.7,1082.3 L378.5,1082.3 L370.3,1082.3 L352.8,1095.3 L337.5,1094.5 L325.4,1079.3 L312.4,1078.5 L292.1,1087.2 L278.9,1083.9 L278.0,1067.2 L263.9,1063.1 L242.3,1071.7 L229.0,1065.0 L234.8,1051.5 L223.2,1045.8 L200.8,1047.3 L195.5,1040.5 L214.1,1031.8 L214.1,1027.5 L258.5,1007.5 L498.5,1007.5 Z" transform="translate(0,58)"/>
<path d="M542.9,1027.5 L542.9,1031.8 L561.5,1040.5 L556.2,1047.3 L533.8,1045.8 L522.2,1051.5 L528.0,1065.0 L514.7,1071.7 L493.1,1063.1 L479.0,1067.2 L478.1,1083.9 L464.9,1087.2 L444.6,1078.5 L431.6,1079.3 L419.5,1094.5 L404.2,1095.3 L386.7,1082.3 L378.5,1082.3 L370.3,1082.3 L352.8,1095.3 L337.5,1094.5 L325.4,1079.3 L312.4,1078.5 L292.1,1087.2 L278.9,1083.9 L278.0,1067.2 L263.9,1063.1 L242.3,1071.7 L229.0,1065.0 L234.8,1051.5 L223.2,1045.8 L200.8,1047.3 L195.5,1040.5 L214.1,1031.8 L214.1,1027.5 L258.5,1007.5 L498.5,1007.5 Z" transform="translate(0,59)"/>
</g>
<path d="M195.5,1040.5 L195.5,1099.5 L200.8,1106.3 L223.2,1104.8 L234.8,1110.5 L229.0,1124.0 L242.3,1130.7 L263.9,1122.1 L278.0,1126.2 L278.9,1142.9 L292.1,1146.2 L312.4,1137.5 L325.4,1138.3 L337.5,1153.5 L352.8,1154.3 L370.3,1141.3 L378.5,1141.3 L378.5,1141.3 L386.7,1141.3 L404.2,1154.3 L419.5,1153.5 L431.6,1138.3 L444.6,1137.5 L464.9,1146.2 L478.1,1142.9 L479.0,1126.2 L493.1,1122.1 L514.7,1130.7 L528.0,1124.0 L522.2,1110.5 L533.8,1104.8 L556.2,1106.3 L561.5,1099.5 L561.5,1040.5" fill="none" stroke="#000" stroke-width="6.5" stroke-linejoin="round"/>
<path d="M214.1,1027.5 L214.1,1022.4 L196.6,1012.0 L203.7,1006.8 L226.5,1009.1 L234.0,1004.8 L228.7,988.0 L241.6,984.1 L266.0,992.5 L277.4,988.7 L278.9,972.7 L297.2,968.9 L316.2,980.3 L325.4,979.6 L342.9,960.5 L359.6,960.5 L370.3,975.8 L378.5,975.8 L386.7,975.8 L397.4,960.5 L414.1,960.5 L431.6,979.6 L440.8,980.3 L459.8,968.9 L478.1,972.7 L479.6,988.7 L491.0,992.5 L515.4,984.1 L528.3,988.0 L523.0,1004.8 L530.5,1009.1 L553.3,1006.8 L560.4,1012.0 L542.9,1022.4 L542.9,1027.5 L542.9,1031.8 L561.5,1040.5 L556.2,1047.3 L533.8,1045.8 L522.2,1051.5 L528.0,1065.0 L514.7,1071.7 L493.1,1063.1 L479.0,1067.2 L478.1,1083.9 L464.9,1087.2 L444.6,1078.5 L431.6,1079.3 L419.5,1094.5 L404.2,1095.3 L386.7,1082.3 L378.5,1082.3 L370.3,1082.3 L352.8,1095.3 L337.5,1094.5 L325.4,1079.3 L312.4,1078.5 L292.1,1087.2 L278.9,1083.9 L278.0,1067.2 L263.9,1063.1 L242.3,1071.7 L229.0,1065.0 L234.8,1051.5 L223.2,1045.8 L200.8,1047.3 L195.5,1040.5 L214.1,1031.8 Z" fill="#fff" stroke="#000" stroke-width="6.5" stroke-linejoin="round"/>
<ellipse cx="375.9" cy="1029.3" rx="114.2" ry="39.5" fill="#fff" stroke="#000" stroke-width="6.5"/>
<path d="M893.4,1039.3 V1104.6 A161.0,43.7 0 0 0 1215.4,1104.6 V1039.3 Z" fill="#fff" stroke="#000" stroke-width="7.5" stroke-linejoin="round"/>
<path d="M900.6,1052.2 V1117.5 M909.9,1058.6 V1123.9 M922.4,1064.3 V1129.6 M937.9,1069.5 V1134.8 M957.2,1074.1 V1139.4 M975.9,1077.5 V1142.8 M995.8,1080.0 V1145.3 M1015.2,1081.7 V1147.0 M1037.0,1082.7 V1148.0 M1058.4,1083.0 V1148.3 M1079.3,1082.5 V1147.8 M1098.6,1081.3 V1146.6 M1117.9,1079.5 V1144.8 M1136.0,1077.0 V1142.3 M1154.6,1073.5 V1138.8 M1173.9,1068.6 V1133.9 M1187.0,1064.1 V1129.4 M1198.8,1058.6 V1123.9 M1207.0,1053.2 V1118.5" stroke="#000" stroke-width="5.8"/>
<ellipse cx="1054.4" cy="1039.3" rx="161.0" ry="43.7" fill="#fff" stroke="#000" stroke-width="6.5"/>
<ellipse cx="1055" cy="1034" rx="80" ry="24.5" fill="#fff" stroke="#000" stroke-width="6.5"/>
<path d="M988.3,946.1 V1033.8 A66.1,19.7 0 0 0 1120.4,1033.8 V946.1 Z" fill="#fff" stroke="#000" stroke-width="6.5" stroke-linejoin="round"/>
<ellipse cx="1054.4" cy="946.1" rx="66.1" ry="19.7" fill="#fff" stroke="#000" stroke-width="6.5"/>
<ellipse cx="1055.3" cy="944.8" rx="13.1" ry="6.3" fill="#000"/>
<g transform="translate(311.5,197.5) scale(0.74,1)"><text x="0" y="0" font-size="72" font-family="Liberation Sans, sans-serif" fill="#000" stroke="#000" stroke-width="2.2" stroke-linejoin="round" textLength="298.6" lengthAdjust="spacing">Quijadas</text></g>
<g transform="translate(552.5,197.5) scale(0.74,1)"><text x="0" y="0" font-size="72" font-family="Liberation Sans, sans-serif" fill="#000" stroke="#000" stroke-width="2.2" stroke-linejoin="round" textLength="362.8" lengthAdjust="spacing">ajustables</text></g>
<g transform="translate(839,197.5) scale(0.74,1)"><text x="0" y="0" font-size="72" font-family="Liberation Sans, sans-serif" fill="#000" stroke="#000" stroke-width="2.2" stroke-linejoin="round" textLength="393.9" lengthAdjust="spacing">reversibles</text></g>
<g transform="translate(234.5,1261.6) scale(0.74,1)"><text x="0" y="0" font-size="73" font-family="Liberation Sans, sans-serif" fill="#000" stroke="#000" stroke-width="2.2" stroke-linejoin="round" textLength="363.5" lengthAdjust="spacing">Aplicación</text></g>
<g transform="translate(265,1340.5) scale(0.74,1)"><text x="0" y="0" font-size="73" font-family="Liberation Sans, sans-serif" fill="#000" stroke="#000" stroke-width="2.2" stroke-linejoin="round" textLength="275.7" lengthAdjust="spacing">externa</text></g>
<g transform="translate(942.5,1261.6) scale(0.74,1)"><text x="0" y="0" font-size="73" font-family="Liberation Sans, sans-serif" fill="#000" stroke="#000" stroke-width="2.2" stroke-linejoin="round" textLength="363.5" lengthAdjust="spacing">Aplicación</text></g>
<g transform="translate(980.5,1340.5) scale(0.74,1)"><text x="0" y="0" font-size="73" font-family="Liberation Sans, sans-serif" fill="#000" stroke="#000" stroke-width="2.2" stroke-linejoin="round" textLength="254.1" lengthAdjust="spacing">interna</text></g>
</svg>

</body></html>
